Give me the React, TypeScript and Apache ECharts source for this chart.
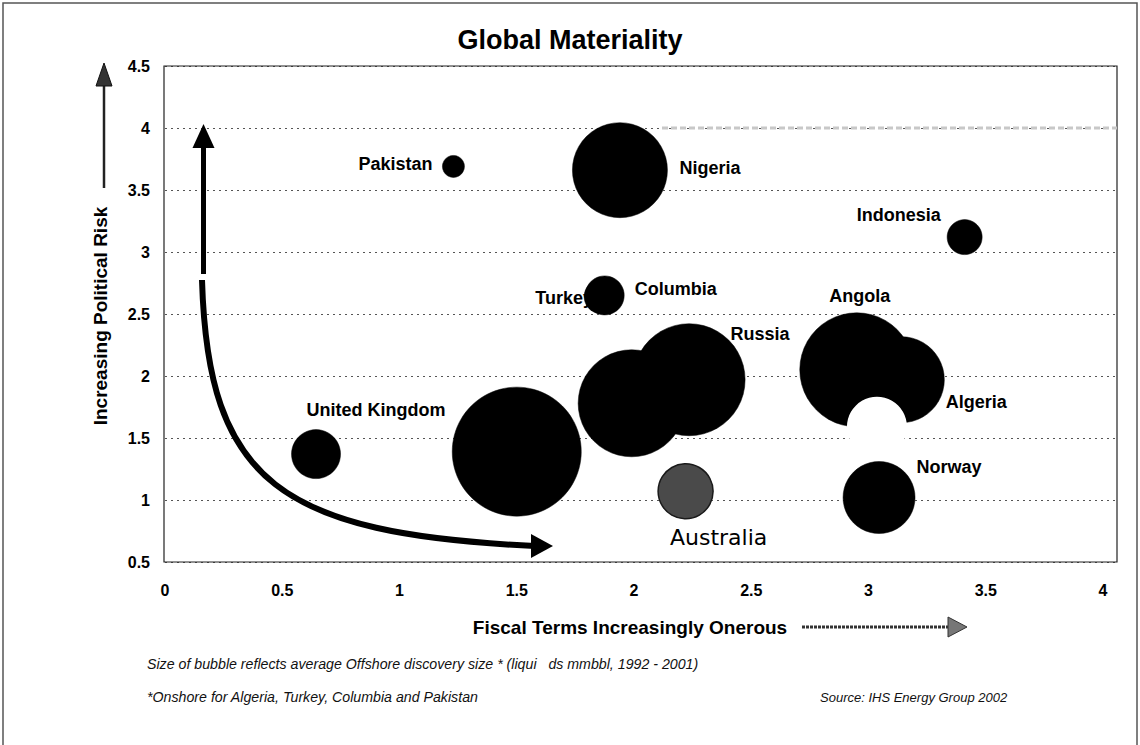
import React, { useEffect, useRef } from "react";
import * as echarts from "echarts";

// ---- Data ----
const countries = [
  "Pakistan", "Nigeria", "Indonesia", "Turkey", "Columbia", "United Kingdom",
  "", "", "Russia", "Australia", "Algeria", "Angola", "", "Norway",
];
// Fiscal Terms (x)
const fiscalTerms = [1.23, 1.94, 3.41, 1.86, 1.875, 0.644, 1.5, 1.99, 2.235, 2.22, 3.14, 2.95, 3.036, 3.045];
// Political Risk (y)
const politicalRisk = [3.69, 3.66, 3.12, 2.64, 2.65, 1.37, 1.39, 1.78, 1.97, 1.07, 1.97, 2.05, 1.59, 1.02];
// Bubble size (average offshore discovery size, drawn as diameter)
const bubbleSize = [22, 95, 35, 34, 39, 49, 129, 107, 112, 55, 86, 114, 60, 72];

const xTicks = [0, 0.5, 1, 1.5, 2, 2.5, 3, 3.5, 4];
const yTicks = [0.5, 1, 1.5, 2, 2.5, 3, 3.5, 4, 4.5];

// ---- Presentation (label placement & per-bubble style) ----
const labelOffsets: Record<string, [number, number]> = {
  Pakistan: [-58, -2],
  Nigeria: [90, -2],
  Indonesia: [-66, -22],
  Turkey: [-37, 1],
  Columbia: [71, -6],
  "United Kingdom": [60, -44],
  Russia: [71, -46],
  Australia: [33, 46],
  Algeria: [75, 22],
  Angola: [3, -74],
  Norway: [70, -31],
};

const FONT = "'Liberation Sans', Arial, Helvetica, sans-serif";

export default function App() {
  const ref = useRef<HTMLDivElement>(null);

  useEffect(() => {
    if (!ref.current) return;
    const chart = echarts.init(ref.current, undefined, { renderer: "svg" });

    const data = countries.map((name, i) => {
      const isWhite = i === 12;
      const isAus = name === "Australia";
      const off = labelOffsets[name];
      return {
        name,
        value: [fiscalTerms[i], politicalRisk[i], bubbleSize[i]],
        itemStyle: isWhite
          ? { color: "#ffffff", borderWidth: 0, opacity: 1 }
          : isAus
          ? { color: "#4a4a4a", borderColor: "#1a1a1a", borderWidth: 1.5, opacity: 1 }
          : { color: "#000000", borderColor: "#000000", borderWidth: 0.5, opacity: 1 },
        label: off
          ? {
              show: true,
              position: "inside",
              offset: off,
              formatter: name,
              color: "#000",
              opacity: 1,
              fontSize: isAus ? 22 : 18,
              fontWeight: isAus ? "normal" : "bold",
              fontFamily: isAus ? "'DejaVu Sans', sans-serif" : FONT,
            }
          : { show: false },
      };
    });

    const xMaxBox = 4 * (1117 - 165) / (1103 - 165);

    const option: any = {
      animation: false,
      backgroundColor: "#ffffff",
      grid: { left: 165, top: 66, width: 952, height: 496, containLabel: false },
      xAxis: {
        type: "value",
        min: 0,
        max: xMaxBox,
        interval: 0.5,
        axisLine: { show: false },
        axisTick: { show: false },
        splitLine: { show: false },
        axisLabel: {
          margin: 20,
          fontSize: 16,
          fontWeight: "bold",
          color: "#000",
          fontFamily: FONT,
          showMaxLabel: false,
          formatter: (v: number) => (xTicks.some((t) => Math.abs(t - v) < 1e-6) ? String(v) : ""),
        },
      },
      yAxis: {
        type: "value",
        min: 0.5,
        max: 4.5,
        interval: 0.5,
        axisLine: { show: false },
        axisTick: { show: false },
        splitLine: { show: true, lineStyle: { color: "#555", width: 1, type: [2, 4] } },
        axisLabel: {
          margin: 15,
          fontSize: 16,
          fontWeight: "bold",
          color: "#000",
          fontFamily: FONT,
          formatter: (v: number) => (yTicks.some((t) => Math.abs(t - v) < 1e-6) ? String(v) : ""),
        },
      },
      series: [
        {
          type: "scatter",
          data,
          symbol: "circle",
          symbolSize: (val: number[]) => val[2],
          itemStyle: { opacity: 1 },
          emphasis: { disabled: true },
          z: 3,
        },
      ],
      graphic: [
        // outer frame
        {
          type: "polyline",
          shape: { points: [[3, 745], [3, 3], [1137, 3], [1137, 745]] },
          style: { stroke: "#555", lineWidth: 1.5, fill: null },
          z: 0,
        },
        // plot frame
        {
          type: "rect",
          shape: { x: 164, y: 66, width: 953, height: 496 },
          style: { stroke: "#222", lineWidth: 1.2, fill: null },
          z: 1,
        },
        // faint thick line on top of y=4 grid (scan feature)
        {
          type: "line",
          shape: { x1: 662, y1: 128, x2: 1117, y2: 128 },
          style: { stroke: "#c8c8c8", lineWidth: 3, lineDash: [6, 3] },
          z: 1,
        },
        // title
        {
          type: "text",
          style: {
            text: "Global Materiality",
            x: 570,
            y: 40,
            textAlign: "center",
            textVerticalAlign: "middle",
            font: `bold 27px ${FONT}`,
            fill: "#000",
          },
        },
        // y axis name + arrow
        {
          type: "text",
          rotation: Math.PI / 2,
          x: 100,
          y: 316,
          style: {
            text: "Increasing Political Risk",
            x: 0,
            y: 0,
            textAlign: "center",
            textVerticalAlign: "middle",
            font: `bold 19px ${FONT}`,
            fill: "#000",
          },
        },
        {
          type: "line",
          shape: { x1: 104, y1: 188, x2: 104, y2: 82 },
          style: { stroke: "#222", lineWidth: 2.5 },
        },
        {
          type: "polygon",
          shape: { points: [[104, 63], [96, 86], [112, 86]] },
          style: { fill: "#333", stroke: "#111", lineWidth: 1 },
        },
        // x axis name + arrow
        {
          type: "text",
          style: {
            text: "Fiscal Terms Increasingly Onerous",
            x: 630,
            y: 627,
            textAlign: "center",
            textVerticalAlign: "middle",
            font: `bold 19px ${FONT}`,
            fill: "#000",
          },
        },
        {
          type: "line",
          shape: { x1: 802, y1: 627, x2: 950, y2: 627 },
          style: { stroke: "#333", lineWidth: 3, lineDash: [3, 1] },
        },
        {
          type: "polygon",
          shape: { points: [[967, 627], [948, 617], [948, 637]] },
          style: { fill: "#777", stroke: "#333", lineWidth: 1 },
        },
        // curved trade-off arrow
        {
          type: "line",
          shape: { x1: 203.5, y1: 274, x2: 203.5, y2: 144 },
          style: { stroke: "#000", lineWidth: 5 },
          z: 5,
        },
        {
          type: "polygon",
          shape: { points: [[203.5, 124], [192.5, 148], [214.5, 148]] },
          style: { fill: "#000" },
          z: 5,
        },
        {
          type: "bezierCurve",
          shape: { x1: 202, y1: 280, cpx1: 208, cpy1: 482, cpx2: 280, cpy2: 534, x2: 535, y2: 546 },
          style: { stroke: "#000", lineWidth: 6, fill: null },
          z: 5,
        },
        {
          type: "polygon",
          shape: { points: [[553, 546], [531, 534], [531, 558]] },
          style: { fill: "#000" },
          z: 5,
        },
        // footnotes
        {
          type: "text",
          style: {
            text: "Size of bubble reflects average Offshore discovery size * (liqui   ds mmbbl, 1992 - 2001)",
            x: 147,
            y: 664,
            textAlign: "left",
            textVerticalAlign: "middle",
            font: `italic 14.2px ${FONT}`,
            fill: "#111",
          },
        },
        {
          type: "text",
          style: {
            text: "*Onshore for Algeria, Turkey, Columbia and Pakistan",
            x: 147,
            y: 697,
            textAlign: "left",
            textVerticalAlign: "middle",
            font: `italic 14.2px ${FONT}`,
            fill: "#111",
          },
        },
        {
          type: "text",
          style: {
            text: "Source: IHS Energy Group 2002",
            x: 820,
            y: 697,
            textAlign: "left",
            textVerticalAlign: "middle",
            font: `italic 13px ${FONT}`,
            fill: "#111",
          },
        },
      ],
    };

    chart.setOption(option);
    return () => chart.dispose();
  }, []);

  return (
    <div
      ref={ref}
      style={{ position: "absolute", left: 0, top: 0, width: 1140, height: 745, background: "#fff" }}
    />
  );
}
